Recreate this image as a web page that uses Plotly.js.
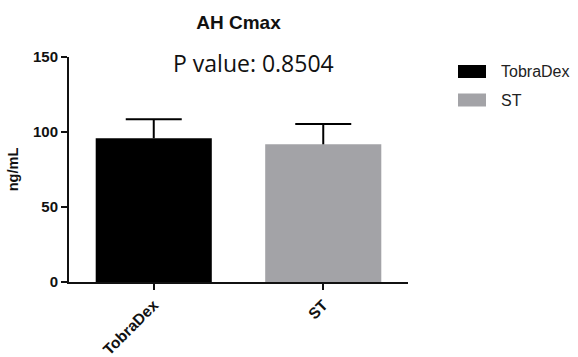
<!DOCTYPE html>
<html>
<head>
<meta charset="utf-8">
<script src="https://cdn.plot.ly/plotly-3.0.1.min.js"></script>
<style>html,body{margin:0;padding:0;background:#fff;}#chart{width:578px;height:357px;}</style>
</head>
<body>
<div id="chart"></div>
<script>
// Data
const categories = ['TobraDex', 'ST'];
const means = [95.8, 91.8];
const errors = [12.7, 13.5];
const barColors = ['#000000', '#a3a3a7'];
const yTicks = [0, 50, 100, 150];
const chartTitle = 'AH Cmax';
const pValueText = 'P value: 0.8504';
const yLabel = 'ng/mL';

const arial = 'Arial, "Liberation Sans", sans-serif';

const barTrace = {
  type: 'bar',
  x: categories,
  y: means,
  width: 0.685,
  marker: {color: barColors, line: {width: 0}},
  showlegend: false,
  hoverinfo: 'x+y'
};

// error bars: stem from the bar top upward, with a cap at the top only
const errTrace = {
  type: 'scatter',
  mode: 'markers',
  x: categories,
  y: means.map((m, i) => m + errors[i]),
  marker: {symbol: 'line-ew', size: 40, color: '#000', line: {color: '#000', width: 2}},
  error_y: {type: 'data', symmetric: false, array: errors.map(() => 0), arrayminus: errors, width: 0, thickness: 2, color: '#000'},
  showlegend: false,
  hoverinfo: 'skip'
};

const L = 69, R = 408, T = 57, B = 282;
const pw = R - L, ph = B - T;
const px = v => (v - L) / pw;
const py = v => (B - v) / ph;

const shapes = [];
const annotations = [{
  text: pValueText, xref: 'paper', yref: 'paper', x: px(253.5), y: py(63),
  xanchor: 'center', yanchor: 'middle', showarrow: false,
  font: {family: '"Open Sans", sans-serif', size: 23, color: '#111'}
}];
const legendRowsY = [71.5, 100];
categories.forEach((c, i) => {
  const cy = legendRowsY[i];
  shapes.push({type: 'rect', xref: 'paper', yref: 'paper',
    x0: px(458), x1: px(486), y0: py(cy - 6.5), y1: py(cy + 6.5),
    fillcolor: barColors[i], line: {width: 0}});
  annotations.push({text: c, xref: 'paper', yref: 'paper', x: px(499), y: py(cy),
    xanchor: 'left', yanchor: 'middle', showarrow: false,
    font: {family: arial, size: 16, color: '#222'}});
});

const layout = {
  width: 578, height: 357,
  margin: {l: L, r: 578 - R, t: T, b: 357 - B, pad: 0},
  paper_bgcolor: '#fff', plot_bgcolor: '#fff',
  title: {text: '<b>' + chartTitle + '</b>', x: px(238.5), xref: 'paper', xanchor: 'center',
    y: 1 - 22 / 357, yref: 'container', yanchor: 'middle',
    font: {family: arial, size: 19, color: '#111'}},
  xaxis: {
    type: 'category', range: [-0.5, 1.5], showgrid: false, zeroline: false,
    showline: true, linecolor: '#111', linewidth: 2,
    ticks: 'outside', ticklen: 6, tickwidth: 2, tickcolor: '#111',
    tickangle: -45, tickfont: {family: arial, size: 15.5, color: '#111', weight: 'bold'},
    fixedrange: true
  },
  yaxis: {
    range: [0, 150], tickvals: yTicks, showgrid: false, zeroline: false,
    showline: true, linecolor: '#111', linewidth: 2,
    ticks: 'outside', ticklen: 6, tickwidth: 2, tickcolor: '#111',
    tickfont: {family: arial, size: 15, color: '#111', weight: 'bold'},
    title: {text: '<b>' + yLabel + '</b>', font: {family: arial, size: 14.5, color: '#111'}, standoff: 11},
    fixedrange: true
  },
  shapes: shapes,
  annotations: annotations,
  showlegend: false
};

Plotly.newPlot('chart', [barTrace, errTrace], layout, {displayModeBar: false, staticPlot: true});
</script>
</body>
</html>
